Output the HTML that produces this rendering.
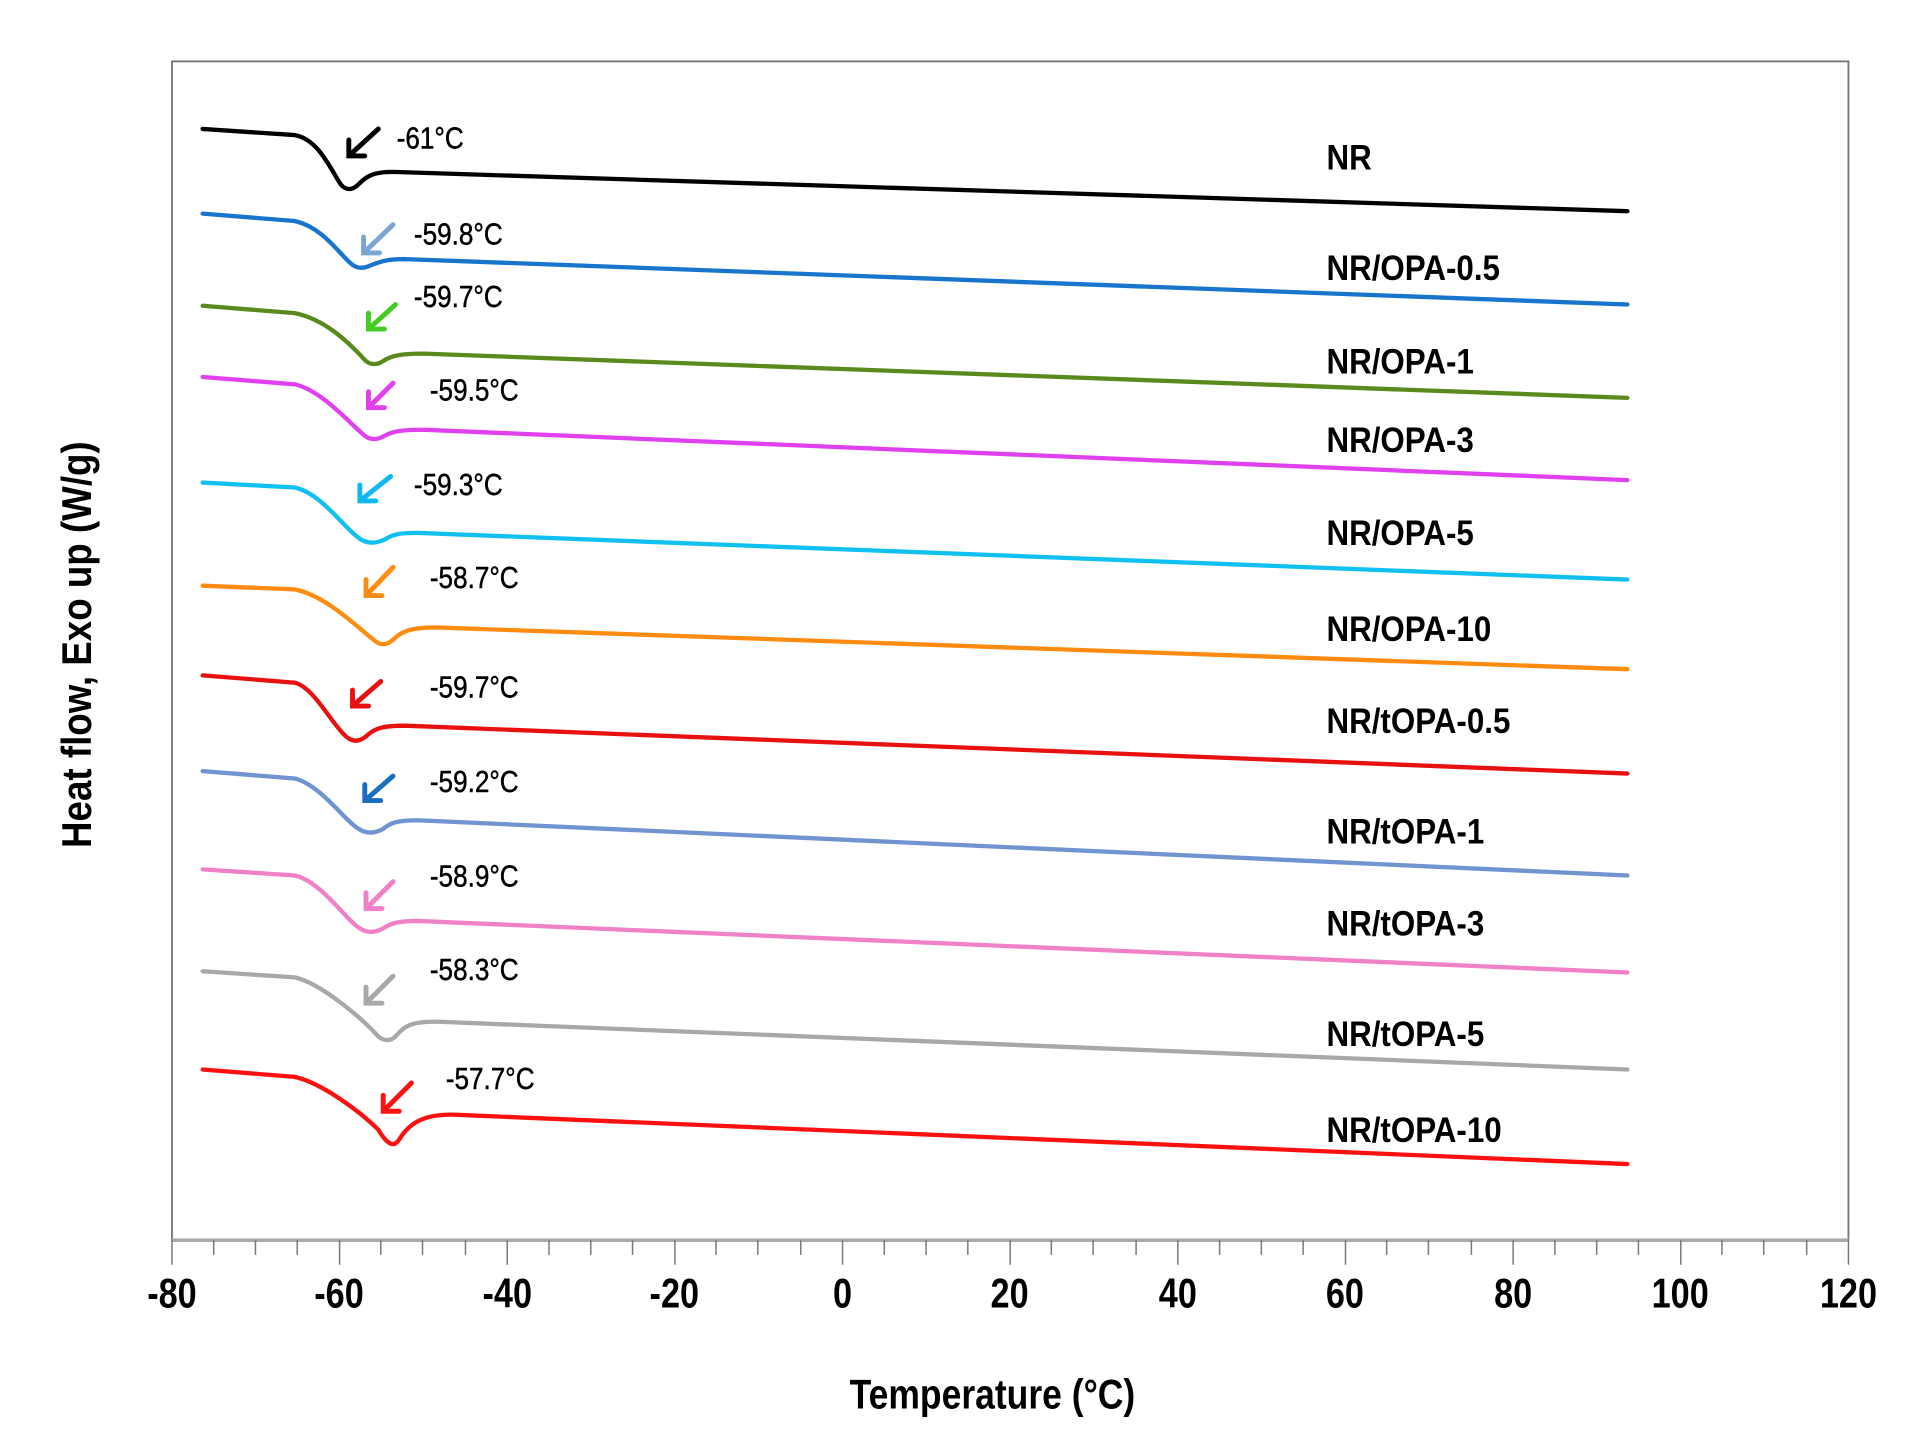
<!DOCTYPE html>
<html><head><meta charset="utf-8"><style>
html,body{margin:0;padding:0;background:#fff;}
svg{display:block;}
text{font-family:"Liberation Sans",Arial,sans-serif;}
</style></head><body>
<svg width="1916" height="1444" viewBox="0 0 1560 1176" preserveAspectRatio="none" xmlns="http://www.w3.org/2000/svg">
<rect x="0" y="0" width="1560" height="1176" fill="#fff"/>
<rect x="140" y="50" width="1365" height="960" fill="none" stroke="#777" stroke-width="1.5"/>
<line x1="140" y1="1010" x2="1505" y2="1010" stroke="#aaa" stroke-width="3"/>
<g font-size="34" font-weight="bold" text-anchor="middle" fill="#000">
<text transform="translate(140,1065) scale(0.82,1)">-80</text><text transform="translate(276,1065) scale(0.82,1)">-60</text><text transform="translate(413,1065) scale(0.82,1)">-40</text><text transform="translate(549,1065) scale(0.82,1)">-20</text><text transform="translate(686,1065) scale(0.82,1)">0</text><text transform="translate(822,1065) scale(0.82,1)">20</text><text transform="translate(959,1065) scale(0.82,1)">40</text><text transform="translate(1095,1065) scale(0.82,1)">60</text><text transform="translate(1232,1065) scale(0.82,1)">80</text><text transform="translate(1368,1065) scale(0.82,1)">100</text><text transform="translate(1505,1065) scale(0.82,1)">120</text>
</g>
<text transform="translate(808,1147) scale(0.85,1)" font-size="34" font-weight="bold" text-anchor="middle">Temperature (°C)</text>
<text transform="translate(74,525) rotate(-90) scale(0.88,1)" font-size="34" font-weight="bold" text-anchor="middle">Heat flow,  Exo up (W/g)</text>
<g fill="none" stroke-width="3.5" stroke-linejoin="round" stroke-linecap="round">
<path stroke="#000" d="M165,105 L240,110 C258,113 268,135 276,148 C280,155 286,156 292,150 C298,144 303,140 320,140 L1325,172"/>
<path stroke="#1874cd" d="M165,174 L240,180 C262,185 275,205 285,214 C290,219 296,219 302,216 C310,213 315,211 330,211 L1325,248"/>
<path stroke="#5a8a1e" d="M165,249 L240,255 C265,260 285,280 296,292 C300,297 306,298 312,294 C318,290 325,288 345,288 L1325,324"/>
<path stroke="#e040f0" d="M165,307 L240,313 C262,318 285,345 296,354 C300,358 306,359 313,355 C320,351 328,350 345,350 L1325,391"/>
<path stroke="#10c0f0" d="M165,393 L240,397 C262,402 280,430 292,438 C298,443 306,443 314,439 C320,435 326,434 340,434 L1325,472"/>
<path stroke="#ff8c10" d="M165,477 L240,480 C265,485 290,510 303,520 C309,526 314,526 320,521 C327,514 335,511 355,511 L1325,545"/>
<path stroke="#e81010" d="M165,550 L240,556 C256,560 270,590 282,600 C288,605 294,604 300,598 C306,593 312,591 330,591 L1325,630"/>
<path stroke="#6f94d0" d="M165,628 L240,634 C262,640 280,668 292,675 C298,679 305,679 312,675 C318,670 324,668 340,668 L1325,713"/>
<path stroke="#f080c8" d="M165,708 L240,713 C262,718 282,750 293,756 C299,760 305,760 312,756 C318,752 324,750 340,750 L1325,792"/>
<path stroke="#a8a8a8" d="M165,791 L240,796 C262,801 295,830 306,842 C311,848 318,849 323,843 C329,836 334,832 355,832 L1325,871"/>
<path stroke="#ff1010" d="M165,871 L240,877 C262,882 293,905 308,920 C314,930 320,936 325,928 C333,915 345,906 375,908 L1325,948"/>
</g>
<g stroke-width="4" fill="none" stroke-linecap="round">
<g stroke="#000"><path d="M308,105 L284,127 M284,114 L284,127 L297,127"/></g>
<g stroke="#7aa6d6"><path d="M320,183 L296,206 M296,193 L296,206 L309,206"/></g>
<g stroke="#44cc22"><path d="M322,248 L300,268 M300,255 L300,268 L313,268"/></g>
<g stroke="#e040f0"><path d="M320,312 L300,332 M300,319 L300,332 L313,332"/></g>
<g stroke="#10b8f0"><path d="M318,388 L293,408 M293,395 L293,408 L306,408"/></g>
<g stroke="#ff8c10"><path d="M320,462 L298,485 M298,472 L298,485 L311,485"/></g>
<g stroke="#e81010"><path d="M310,555 L287,575 M287,562 L287,575 L300,575"/></g>
<g stroke="#1a6ec0"><path d="M320,632 L297,652 M297,639 L297,652 L310,652"/></g>
<g stroke="#f080c8"><path d="M320,718 L298,740 M298,727 L298,740 L311,740"/></g>
<g stroke="#a8a8a8"><path d="M320,795 L298,817 M298,804 L298,817 L311,817"/></g>
<g stroke="#ff1010"><path d="M335,882 L312,905 M312,892 L312,905 L325,905"/></g>
</g>
<g font-size="25" fill="#000" stroke="#000" stroke-width="0.4">
<text transform="translate(323,121) scale(0.85,1)">-61°C</text>
<text transform="translate(337,199) scale(0.85,1)">-59.8°C</text>
<text transform="translate(337,250) scale(0.85,1)">-59.7°C</text>
<text transform="translate(350,326) scale(0.85,1)">-59.5°C</text>
<text transform="translate(337,403) scale(0.85,1)">-59.3°C</text>
<text transform="translate(350,479) scale(0.85,1)">-58.7°C</text>
<text transform="translate(350,568) scale(0.85,1)">-59.7°C</text>
<text transform="translate(350,645) scale(0.85,1)">-59.2°C</text>
<text transform="translate(350,722) scale(0.85,1)">-58.9°C</text>
<text transform="translate(350,798) scale(0.85,1)">-58.3°C</text>
<text transform="translate(363,887) scale(0.85,1)">-57.7°C</text>
</g>
<g font-size="29" font-weight="bold" fill="#000">
<text transform="translate(1080,138) scale(0.88,1)">NR</text>
<text transform="translate(1080,228) scale(0.88,1)">NR/OPA-0.5</text>
<text transform="translate(1080,304) scale(0.88,1)">NR/OPA-1</text>
<text transform="translate(1080,368) scale(0.88,1)">NR/OPA-3</text>
<text transform="translate(1080,444) scale(0.88,1)">NR/OPA-5</text>
<text transform="translate(1080,522) scale(0.88,1)">NR/OPA-10</text>
<text transform="translate(1080,597) scale(0.88,1)">NR/tOPA-0.5</text>
<text transform="translate(1080,687) scale(0.88,1)">NR/tOPA-1</text>
<text transform="translate(1080,762) scale(0.88,1)">NR/tOPA-3</text>
<text transform="translate(1080,852) scale(0.88,1)">NR/tOPA-5</text>
<text transform="translate(1080,930) scale(0.88,1)">NR/tOPA-10</text>
</g>
<g stroke="#777" stroke-width="1.2">
<path d="M140,1010V1030M276.5,1010V1030M413,1010V1030M549.5,1010V1030M686,1010V1030M822.5,1010V1030M959,1010V1030M1095.5,1010V1030M1232,1010V1030M1368.5,1010V1030M1505,1010V1030"/>
<path d="M174,1010V1022M208,1010V1022M242,1010V1022M310,1010V1022M344,1010V1022M379,1010V1022M447,1010V1022M481,1010V1022M515,1010V1022M583,1010V1022M617,1010V1022M652,1010V1022M720,1010V1022M754,1010V1022M788,1010V1022M856,1010V1022M890,1010V1022M925,1010V1022M993,1010V1022M1027,1010V1022M1061,1010V1022M1129,1010V1022M1163,1010V1022M1198,1010V1022M1266,1010V1022M1300,1010V1022M1334,1010V1022M1402,1010V1022M1436,1010V1022M1471,1010V1022"/>
</g>
</svg>
</body></html>
